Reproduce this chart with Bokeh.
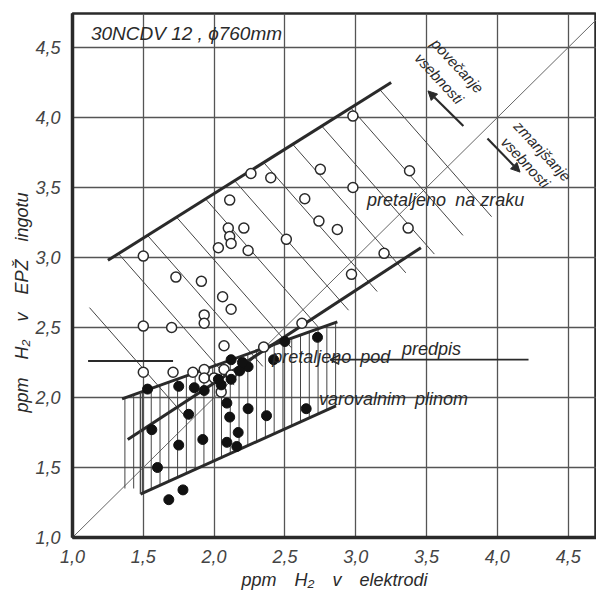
import numpy as np
from bokeh.plotting import figure
from bokeh.models import Label, Arrow, NormalHead, OpenHead, FixedTicker, Range1d
from bokeh.embed import file_html
from bokeh.resources import INLINE

# ---- data ----
ticks = [1.0, 1.5, 2.0, 2.5, 3.0, 3.5, 4.0, 4.5]
tick_labels = ["1,0", "1,5", "2,0", "2,5", "3,0", "3,5", "4,0", "4,5"]

# melted in air (open circles)
air_x = [1.50, 1.73, 1.91, 2.06, 2.12, 1.93, 1.93, 1.50, 1.70,
         2.26, 2.40, 2.11, 2.10, 2.21, 2.11, 2.12, 2.03, 2.24, 2.51,
         2.75, 2.64, 2.98, 3.38, 2.74, 2.87, 3.37, 3.20, 2.97, 2.98, 2.62,
         2.07, 2.35, 1.50, 1.71, 1.85, 1.93, 1.93, 2.00, 2.07, 2.12, 2.05]
air_y = [3.01, 2.86, 2.83, 2.72, 2.63, 2.59, 2.53, 2.51, 2.50,
         3.60, 3.57, 3.41, 3.21, 3.21, 3.15, 3.10, 3.07, 3.05, 3.13,
         3.63, 3.42, 3.50, 3.62, 3.26, 3.20, 3.21, 3.03, 2.88, 4.01, 2.53,
         2.37, 2.36, 2.18, 2.18, 2.18, 2.20, 2.14, 2.14, 2.20, 2.16, 2.04]

# melted under protective gas (filled circles)
gas_x = [1.53, 1.75, 1.86, 1.93, 2.12, 2.12, 2.24, 2.42, 2.50, 2.73,
         2.09, 2.11, 2.24, 2.37, 2.17, 2.09, 2.16, 1.92, 1.75, 1.82,
         1.56, 1.60, 1.78, 1.68, 2.65, 2.05, 2.18, 2.03, 2.20]
gas_y = [2.06, 2.08, 2.07, 2.05, 2.13, 2.27, 2.22, 2.27, 2.40, 2.43,
         1.96, 1.86, 1.92, 1.87, 1.75, 1.68, 1.65, 1.70, 1.66, 1.88,
         1.77, 1.50, 1.34, 1.27, 1.92, 2.09, 2.19, 2.13, 2.25]

# band boundaries (end points)
air_upper = [(1.25, 2.98), (3.25, 4.25)]
air_lower = [(1.39, 1.70), (3.46, 3.07)]
gas_upper = [(1.35, 1.99), (2.87, 2.54)]
gas_lower = [(1.48, 1.31), (2.86, 1.94)]
gas_left_bottom = 1.35
spec_left = [(1.11, 2.26), (1.71, 2.26)]
spec_right = [(4.22, 2.27), (2.82, 2.27)]

FONT = "Liberation Sans"
INK = "#2a2a2a"
SP = "\u2002"
EM = "\u2003"

p = figure(width=596, height=592, x_range=Range1d(1.0, 4.70), y_range=Range1d(1.0, 4.743),
           output_backend="svg", toolbar_location=None,
           min_border_left=72, min_border_right=0, min_border_top=13, min_border_bottom=55)
p.background_fill_color = "white"
p.border_fill_color = "white"
p.outline_line_color = INK
p.outline_line_width = 2.5

for ax in (p.xaxis[0], p.yaxis[0]):
    ax.ticker = FixedTicker(ticks=ticks)
    ax.major_label_overrides = {t: l for t, l in zip(ticks, tick_labels)}
    ax.major_label_text_font = FONT
    ax.major_label_text_font_style = "italic"
    ax.major_label_text_font_size = "18px"
    ax.major_label_text_color = "#444"
    ax.major_tick_line_color = None
    ax.minor_tick_line_color = None
    ax.axis_line_width = 3.5
    ax.axis_line_color = INK
    ax.major_label_standoff = 6
    ax.axis_label_text_font = FONT
    ax.axis_label_text_font_style = "italic"
    ax.axis_label_text_font_size = "18px"
    ax.axis_label_text_color = INK

p.xaxis.axis_label_standoff = 4
p.yaxis.axis_label_standoff = 0
p.xaxis.axis_label = "ppm" + SP * 2 + "H₂" + SP * 2 + "v" + SP * 2 + "elektrodi"
p.yaxis.axis_label = "ppm" + SP * 2 + "H₂" + SP * 2 + "v" + SP * 2 + "EPŽ" + SP * 2 + "ingotu" + EM * 3

p.xgrid.ticker = FixedTicker(ticks=ticks)
p.ygrid.ticker = FixedTicker(ticks=ticks)
p.grid.grid_line_color = "#555"
p.grid.grid_line_width = 1.3
p.grid.grid_line_alpha = 1.0

def lin(seg, x):
    (x0, y0), (x1, y1) = seg
    return y0 + (y1 - y0) * (x - x0) / (x1 - x0)

# diagonal y = x
p.line([1.0, 4.743], [1.0, 4.743], line_color="#666", line_width=1)

# hatch of air band (lines at slope -1.15 from upper to lower boundary)
s = -1.15
hx0, hy0, hx1, hy1 = [], [], [], []
(ux0, uy0), (ux1, uy1) = air_upper
(lx0, ly0), (lx1, ly1) = air_lower
ml = (ly1 - ly0) / (lx1 - lx0)
for x0 in np.arange(1.12, 3.30, 0.205):
    if x0 < ux0:
        y0 = lin(air_upper, ux0) - (ux0 - x0) * 2.6
    else:
        y0 = lin(air_upper, x0)
    xe = (ly0 - ml * lx0 - y0 + s * x0) / (s - ml)
    xe = xe + 0.06
    hx0.append(x0); hy0.append(y0); hx1.append(xe); hy1.append(y0 + s * (xe - x0))
p.segment(hx0, hy0, hx1, hy1, line_color="#444", line_width=1)

# hatch of gas band (vertical lines)
vx, vb, vt = [], [], []
for x in np.arange(1.37, 2.87, 0.062):
    bot = lin(gas_lower, x) if x >= gas_lower[0][0] else gas_left_bottom
    top = lin(gas_upper, x)
    vx.append(x); vb.append(bot); vt.append(top)
p.segment(vx, vb, vx, vt, line_color="#444", line_width=1)

# band boundaries
for seg in (air_upper, air_lower, gas_upper, gas_lower):
    p.line([seg[0][0], seg[1][0]], [seg[0][1], seg[1][1]], line_color=INK, line_width=3)
p.line([gas_lower[0][0], gas_lower[0][0]], [gas_lower[0][1], lin(gas_upper, gas_lower[0][0])],
       line_color="#444", line_width=1.5)

# specification lines
p.line([spec_left[0][0], spec_left[1][0]], [spec_left[0][1], spec_left[1][1]], line_color=INK, line_width=2)
p.add_layout(Arrow(end=OpenHead(size=9, line_width=1.5, line_color=INK),
                   x_start=spec_right[0][0], y_start=spec_right[0][1],
                   x_end=spec_right[1][0], y_end=spec_right[1][1],
                   line_color=INK, line_width=1.8))

# data points
p.scatter(air_x, air_y, size=10, fill_color="white", line_color=INK, line_width=1.5)
p.scatter(gas_x, gas_y, size=10, fill_color="#111", line_color="#111")

# direction arrows
p.add_layout(Arrow(end=NormalHead(size=9, fill_color=INK, line_color=INK),
                   x_start=3.76, y_start=3.94, x_end=3.51, y_end=4.19,
                   line_color=INK, line_width=2.2))
p.add_layout(Arrow(end=NormalHead(size=9, fill_color=INK, line_color=INK),
                   x_start=3.93, y_start=3.85, x_end=4.16, y_end=3.61,
                   line_color=INK, line_width=2.2))

def lab(x, y, t, size="16px", align="left", angle=0.0, baseline="middle"):
    p.add_layout(Label(x=x, y=y, text=t, text_font=FONT, text_font_style="italic",
                       text_font_size=size, text_color=INK, text_align=align,
                       text_baseline=baseline, angle=angle))

ang = np.deg2rad(-47)
lab(1.13, 4.60, "30NCDV 12 , ϕ760mm", size="19px")
lab(3.72, 4.37, "povečanje", size="15px", align="center", angle=ang)
lab(3.59, 4.28, "vsebnosti", size="15px", align="center", angle=ang)
lab(4.32, 3.76, "zmanjšanje", size="15px", align="center", angle=ang)
lab(4.20, 3.68, "vsebnosti", size="15px", align="center", angle=ang)
lab(3.08, 3.41, "pretaljeno" + SP + "na zraku", size="18px")
lab(2.41, 2.29, "pretaljeno" + SP + "pod", size="18px")
lab(2.74, 1.99, "varovalnim" + SP + "plinom", size="18px")
lab(3.535, 2.35, "predpis", size="18px", align="center")

open("out.html", "w").write(file_html(p, INLINE))
